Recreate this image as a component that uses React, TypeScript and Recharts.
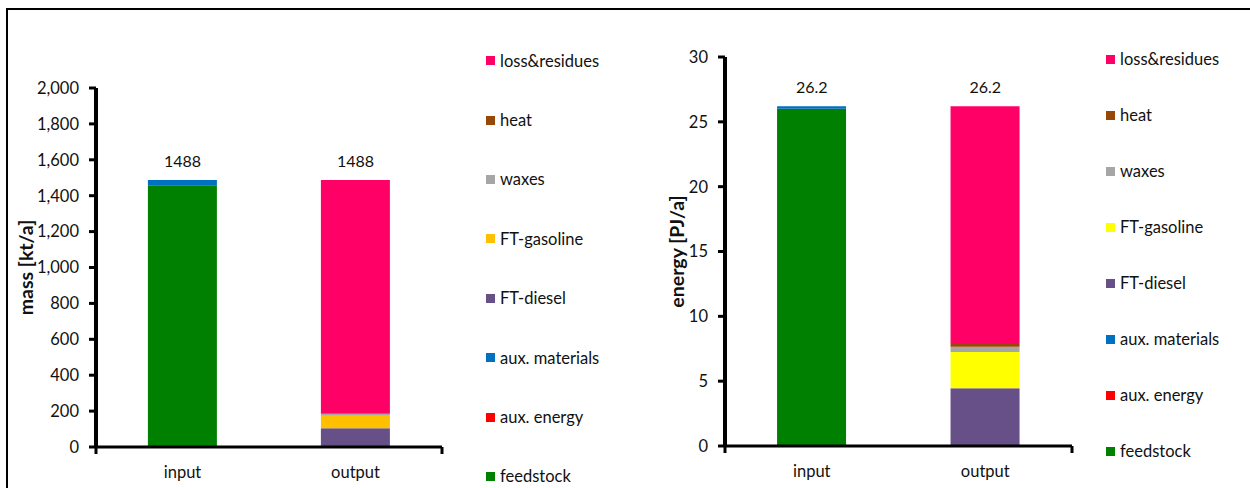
import React from "react";
import { ComposedChart, Bar, Line, XAxis, YAxis, LabelList } from "recharts";

const categories = ["input", "output"];

// stack order, bottom to top
const seriesKeys = ["feedstock", "auxEnergy", "auxMaterials", "ftDiesel", "ftGasoline", "waxes", "heat", "loss"];
const seriesNames = ["feedstock", "aux. energy", "aux. materials", "FT-diesel", "FT-gasoline", "waxes", "heat", "loss&residues"];

const massColors = ["#008000", "#FF0000", "#0070C0", "#675088", "#FFC000", "#A6A6A6", "#974706", "#FF0066"];
const energyColors = ["#008000", "#FF0000", "#0070C0", "#675088", "#FFFF00", "#A6A6A6", "#974706", "#FF0066"];

// mass [kt/a]
const massInput = [1458, 0, 30, 0, 0, 0, 0, 0];
const massOutput = [0, 0, 0, 104, 70, 11, 0, 1303];
const massTotals = [1488, 1488];
const massTicks = [0, 200, 400, 600, 800, 1000, 1200, 1400, 1600, 1800, 2000];

// energy [PJ/a]
const energyInput = [26.0, 0, 0.2, 0, 0, 0, 0, 0];
const energyOutput = [0, 0, 0, 4.45, 2.8, 0.4, 0.3, 18.25];
const energyTotals = [26.2, 26.2];
const energyTicks = [0, 5, 10, 15, 20, 25, 30];

const boundaryTicks = [0, 1, 2];

const FONT = "Lato, 'Open Sans', sans-serif";
const TEXT = "#111";
const AXIS = "#000";

function buildRows(input: number[], output: number[], totals: number[]) {
  return categories.map((category, ci) => {
    const vals = ci === 0 ? input : output;
    const row: Record<string, string | number> = { category, total: totals[ci] };
    seriesKeys.forEach((k, i) => {
      row[k] = vals[i];
    });
    return row;
  });
}

interface PanelProps {
  rows: Record<string, string | number>[];
  colors: string[];
  ticks: number[];
  yLabel: string;
  tickFormat: (v: number) => string;
  totalFormat: (v: number) => string;
  left: number;
  width: number;
  margin: { top: number; right: number; bottom: number; left: number };
  yAxisWidth: number;
  xAxisHeight: number;
  labelOffset: number;
  legendLeft: number;
  legendTop: number;
  legendStep: number;
}

function Panel(p: PanelProps) {
  return (
    <div style={{ position: "absolute", left: p.left, top: 0 }}>
      <ComposedChart
        width={p.width}
        height={488}
        data={p.rows}
        margin={p.margin}
        barCategoryGap="30%"
      >
        <XAxis
          xAxisId="b"
          dataKey="category"
          height={p.xAxisHeight - 1}
          axisLine={false}
          tickLine={false}
          tickSize={0}
          tickMargin={18}
          tick={{ fill: TEXT, fontSize: 16.5 }}
        />
        {/* boundary ticks between categories, as in the original */}
        <XAxis
          xAxisId="a"
          type="number"
          domain={[0, categories.length]}
          ticks={boundaryTicks}
          height={1}
          tickSize={7}
          stroke={AXIS}
          strokeWidth={3}
          axisLine={{ stroke: AXIS, strokeWidth: 3 }}
          tickLine={{ stroke: AXIS, strokeWidth: 3 }}
          tickFormatter={() => ""}
          allowDataOverflow
        />
        <YAxis
          domain={[p.ticks[0], p.ticks[p.ticks.length - 1]]}
          ticks={p.ticks}
          width={p.yAxisWidth}
          stroke={AXIS}
          strokeWidth={4}
          axisLine={{ stroke: AXIS, strokeWidth: 4 }}
          tickLine={{ stroke: AXIS, strokeWidth: 3 }}
          tickSize={7}
          tickMargin={10}
          tick={{ fill: TEXT, fontSize: 16.5, stroke: "none" }}
          tickFormatter={p.tickFormat}
          interval={0}
          label={{
            value: p.yLabel,
            angle: -90,
            position: "insideLeft",
            offset: p.labelOffset,
            style: { textAnchor: "middle", fontWeight: "bold", fontSize: 19.5, fill: TEXT, stroke: "none" },
          }}
        />
        {seriesKeys.map((k, i) => (
          <Bar
            key={k}
            dataKey={k}
            name={seriesNames[i]}
            stackId="s"
            xAxisId="b"
            fill={p.colors[i]}
            isAnimationActive={false}
          />
        ))}
        <Line
          dataKey="total"
          xAxisId="b"
          stroke="none"
          dot={false}
          activeDot={false}
          legendType="none"
          isAnimationActive={false}
        >
          <LabelList
            dataKey="total"
            position="top"
            offset={13}
            formatter={(v: number) => p.totalFormat(v)}
            style={{ fill: TEXT, fontSize: 16 }}
          />
        </Line>
      </ComposedChart>
      <div
        style={{
          position: "absolute",
          left: p.legendLeft - p.left,
          top: p.legendTop,
          display: "flex",
          flexDirection: "column",
        }}
      >
        {seriesKeys
          .map((k, i) => ({ k, name: seriesNames[i], color: p.colors[i] }))
          .reverse()
          .map((s) => (
            <div
              key={s.k}
              style={{ height: p.legendStep, display: "flex", alignItems: "center", fontSize: 16.5, color: TEXT, whiteSpace: "nowrap" }}
            >
              <span style={{ width: 9, height: 9, background: s.color, marginRight: 5, display: "inline-block" }} />
              {s.name}
            </div>
          ))}
      </div>
    </div>
  );
}

export default function App() {
  const massRows = buildRows(massInput, massOutput, massTotals);
  const energyRows = buildRows(energyInput, energyOutput, energyTotals);
  return (
    <div
      style={{
        position: "absolute",
        left: 0,
        top: 0,
        width: 1250,
        height: 488,
        overflow: "hidden",
        background: "#fff",
        fontFamily: FONT,
      }}
    >
      <div
        style={{
          position: "absolute",
          left: 6,
          top: 8,
          width: 1260,
          height: 500,
          borderLeft: "2px solid #000",
          borderTop: "2px solid #000",
        }}
      />
      <Panel
        rows={massRows}
        colors={massColors}
        ticks={massTicks}
        yLabel="mass [kt/a]"
        tickFormat={(v) => v.toLocaleString("en-US")}
        totalFormat={(v) => String(v)}
        left={0}
        width={620}
        margin={{ top: 88, right: 178, bottom: 0, left: 26 }}
        yAxisWidth={70}
        xAxisHeight={41}
        labelOffset={0}
        legendLeft={486}
        legendTop={31}
        legendStep={59.4}
      />
      <Panel
        rows={energyRows}
        colors={energyColors}
        ticks={energyTicks}
        yLabel="energy [PJ/a]"
        tickFormat={(v) => String(v)}
        totalFormat={(v) => v.toFixed(1)}
        left={620}
        width={630}
        margin={{ top: 57, right: 178, bottom: 0, left: 55 }}
        yAxisWidth={50}
        xAxisHeight={42}
        labelOffset={2}
        legendLeft={1106}
        legendTop={31}
        legendStep={56}
      />
    </div>
  );
}
